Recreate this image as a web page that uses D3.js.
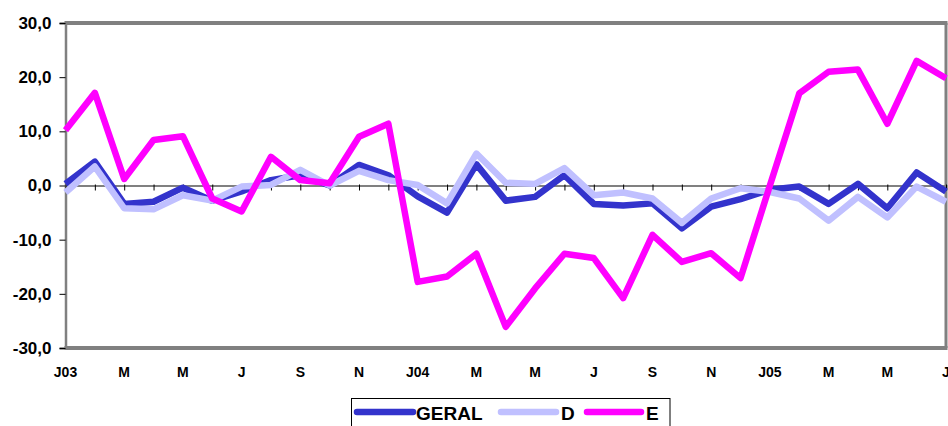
<!DOCTYPE html>
<html>
<head>
<meta charset="utf-8">
<script src="https://cdn.jsdelivr.net/npm/d3@7"></script>
<style>
  html, body { margin: 0; padding: 0; background: #fff; }
  svg { display: block; font-family: "Liberation Sans", Arial, sans-serif; }
</style>
</head>
<body>
<svg id="chart" width="948" height="426"></svg>
<script>
// ---- data ----
const months = ["J03","F","M","A","M","J","J","A","S","O","N","D",
                "J04","F","M","A","M","J","J","A","S","O","N","D",
                "J05","F","M","A","M","J","J"];
const geral = [0.3, 4.4, -3.4, -3.0, -0.4, -2.8, -1.1, 1.0, 1.9, 0.0, 3.8, 1.9,
               -2.0, -5.0, 3.9, -2.8, -2.1, 1.9, -3.4, -3.7, -3.3, -7.9, -3.9, -2.5,
               -0.8, -0.2, -3.4, 0.3, -4.2, 2.4, -1.1];
const dSeries = [-1.3, 3.5, -4.2, -4.4, -1.8, -2.8, -0.2, 0.1, 2.9, 0.0, 2.7, 1.0,
                 0.1, -3.3, 5.9, 0.5, 0.3, 3.2, -1.8, -1.3, -2.4, -6.9, -2.4, -0.5,
                 -1.2, -2.4, -6.5, -2.1, -5.9, -0.2, -3.0];
const eSeries = [10.2, 17.1, 1.2, 8.4, 9.1, -2.4, -4.8, 5.3, 1.0, 0.4, 9.0, 11.4,
                 -17.8, -16.8, -12.6, -26.1, -19.0, -12.6, -13.4, -20.8, -9.1, -14.1, -12.5, -17.1,
                 0.0, 17.0, 21.0, 21.4, 11.4, 23.0, 19.8];
const yTicks = [-30, -20, -10, 0, 10, 20, 30];
const seriesNames = ["GERAL", "D", "E"];
const seriesColors = ["#3333CC", "#C0C0FF", "#FF00FF"];

(function () {
// ---- layout ----
const svg = d3.select("#chart");
const pLeft = 65.5, pRight = 946, pTop = 23, pBottom = 348;
const x = d3.scalePoint().domain(d3.range(months.length)).range([pLeft, pRight]);
const y = d3.scaleLinear().domain([-30, 30]).range([pBottom, pTop]);

// plot frame
svg.append("line").attr("x1", pLeft - 1).attr("x2", pRight + 1.5).attr("y1", pTop).attr("y2", pTop)
  .attr("stroke", "#808080").attr("stroke-width", 4);
svg.append("line").attr("x1", pLeft - 1).attr("x2", pRight + 1.5).attr("y1", pBottom).attr("y2", pBottom)
  .attr("stroke", "#808080").attr("stroke-width", 4);
svg.append("line").attr("x1", pRight).attr("x2", pRight).attr("y1", pTop).attr("y2", pBottom)
  .attr("stroke", "#808080").attr("stroke-width", 3);

// y axis
const yAxis = d3.axisLeft(y).tickValues(yTicks).tickSize(6).tickPadding(8)
  .tickFormat(d => d3.format(".1f")(d).replace(".", ",").replace("\u2212", "-"));
const gy = svg.append("g").attr("transform", `translate(${pLeft},0)`).call(yAxis);
gy.select(".domain").attr("stroke", "#808080").attr("stroke-width", 2.5);
gy.selectAll(".tick line").attr("stroke", "#000").attr("stroke-width", 1);
gy.selectAll(".tick text").attr("font-size", 17).attr("font-weight", "bold").attr("fill", "#000")
  .attr("font-family", "'Liberation Sans', Arial, sans-serif");

// zero line with month ticks
const xAxis = d3.axisBottom(x).tickSize(5).tickFormat("");
const gx = svg.append("g").attr("transform", `translate(0,${y(0)})`).call(xAxis);
gx.select(".domain").attr("stroke", "#808080").attr("stroke-width", 2.2);
gx.selectAll(".tick line").attr("stroke", "#000").attr("stroke-width", 1).attr("y1", -1);

// category labels (every other month)
svg.append("g").selectAll("text")
  .data(months.map((m, i) => ({m, i})).filter(d => d.i % 2 === 0))
  .join("text")
  .attr("x", d => x(d.i))
  .attr("y", 377)
  .attr("text-anchor", "middle")
  .attr("font-size", 14).attr("font-weight", "bold").attr("fill", "#000")
  .text(d => d.m);

// series lines
const line = d3.line().x((d, i) => x(i)).y(d => y(d));
const allSeries = [geral, dSeries, eSeries];
svg.append("g").selectAll("path")
  .data(allSeries)
  .join("path")
  .attr("d", d => line(d))
  .attr("fill", "none")
  .attr("stroke", (d, i) => seriesColors[i])
  .attr("stroke-width", 6.5)
  .attr("stroke-linejoin", "round")
  .attr("stroke-linecap", "butt");

// legend
const lg = svg.append("g");
lg.append("rect").attr("x", 351.5).attr("y", 398.5).attr("width", 318.5).attr("height", 40)
  .attr("fill", "#fff").attr("stroke", "#000").attr("stroke-width", 1);
const legendItems = [
  {x1: 357, x2: 413, tx: 416},
  {x1: 501, x2: 556, tx: 561},
  {x1: 587, x2: 641, tx: 646}
];
legendItems.forEach((it, i) => {
  lg.append("line").attr("x1", it.x1).attr("x2", it.x2).attr("y1", 412).attr("y2", 412)
    .attr("stroke", seriesColors[i]).attr("stroke-width", 6.5).attr("stroke-linecap", "round");
  lg.append("text").attr("x", it.tx).attr("y", 420).attr("font-size", 19).attr("font-weight", "bold")
    .attr("fill", "#000").text(seriesNames[i]);
});
})();
</script>
</body>
</html>
